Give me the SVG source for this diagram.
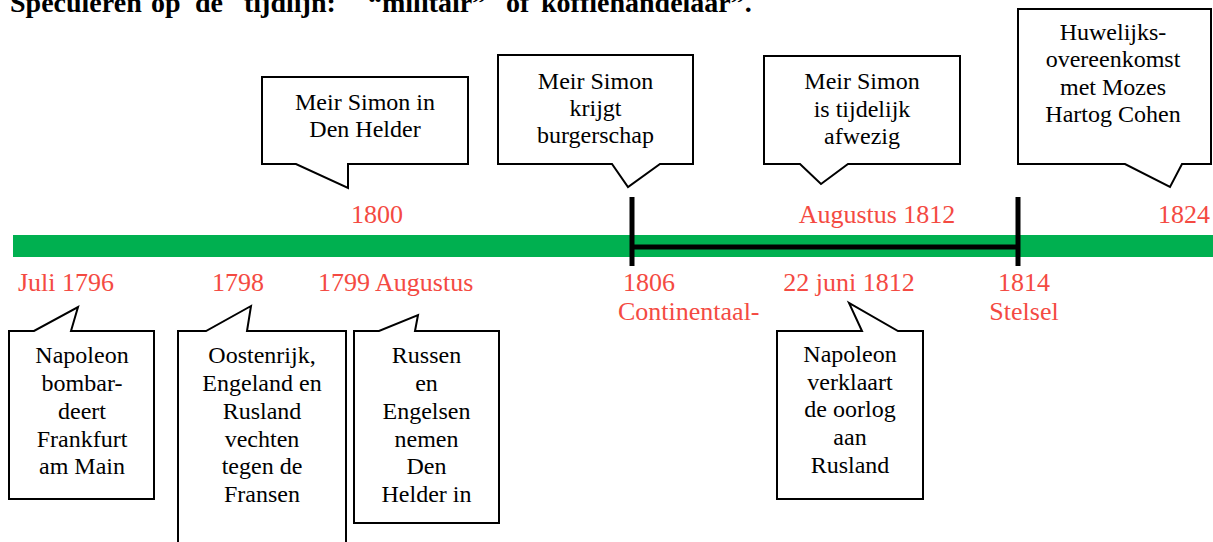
<svg xmlns="http://www.w3.org/2000/svg" width="1213" height="542" viewBox="0 0 1213 542">
<style>
.title{font-family:"Liberation Serif","Times New Roman",serif;font-weight:bold;font-size:28px;fill:#000}
.t{font-family:"Liberation Serif","Times New Roman",serif;font-size:24px;fill:#000;text-anchor:middle}
.red{font-family:"Liberation Serif","Times New Roman",serif;font-size:26px;fill:#F44A42}
.call{fill:#fff;stroke:#000;stroke-width:2;stroke-linejoin:miter}
.bk{stroke:#000;stroke-width:5;fill:none}
</style>
<rect width="1213" height="542" fill="#fff"/>
<text class="title" y="12"><tspan x="10">Speculeren</tspan><tspan x="151">op</tspan><tspan x="195">de</tspan><tspan x="244">tijdlijn:</tspan><tspan x="368">“militair”</tspan><tspan x="506">of</tspan><tspan x="541">koffiehandelaar”.</tspan></text>

<g id="timeline">
<rect x="13" y="235" width="1200" height="22" fill="#00B050"/>
</g>

<g id="connectors">
<line class="bk" x1="632" y1="197" x2="632" y2="266"/>
<line class="bk" x1="1018" y1="197" x2="1018" y2="266"/>
<line class="bk" x1="632" y1="247" x2="1018" y2="247"/>
</g>

<g id="labels">
<text class="red" x="377" y="223" text-anchor="middle">1800</text>
<text class="red" x="877" y="223" text-anchor="middle">Augustus 1812</text>
<text class="red" x="1210" y="223" text-anchor="end">1824</text>
<text class="red" x="18" y="291">Juli 1796</text>
<text class="red" x="238" y="291" text-anchor="middle">1798</text>
<text class="red" x="318" y="291">1799 Augustus</text>
<text class="red" x="623" y="291">1806</text>
<text class="red" x="618" y="320">Continentaal-</text>
<text class="red" x="849" y="291" text-anchor="middle">22 juni 1812</text>
<text class="red" x="1024" y="291" text-anchor="middle">1814</text>
<text class="red" x="1024" y="320" text-anchor="middle">Stelsel</text>
</g>

<g id="c-denhelder">
<path class="call" d="M262,77 H468 V164 H348 V188 L296,164 H262 Z"/>
<text class="t" x="365" y="110">Meir Simon in</text>
<text class="t" x="365" y="137">Den Helder</text>
</g>

<g id="c-burgerschap">
<path class="call" d="M498,55 H693 V164 H660 L628,187 L612,164 H498 Z"/>
<text class="t" x="595.5" y="88.5">Meir Simon</text>
<text class="t" x="595.5" y="115.5">krijgt</text>
<text class="t" x="595.5" y="142.5">burgerschap</text>
</g>

<g id="c-afwezig">
<path class="call" d="M764,56 H960 V164 H848 L821,184 L800,164 H764 Z"/>
<text class="t" x="862" y="89">Meir Simon</text>
<text class="t" x="862" y="116.5">is tijdelijk</text>
<text class="t" x="862" y="144">afwezig</text>
</g>

<g id="c-huwelijk">
<path class="call" d="M1018,9 H1211 V164 H1182 L1170,187 L1125,164 H1018 Z"/>
<text class="t" x="1113" y="39.5">Huwelijks-</text>
<text class="t" x="1113" y="67">overeenkomst</text>
<text class="t" x="1113" y="94.5">met Mozes</text>
<text class="t" x="1113" y="122">Hartog Cohen</text>
</g>

<g id="c-frankfurt">
<path class="call" d="M9,331 H34 L78,307 L71,331 H154 V499 H9 Z"/>
<text class="t" x="82" y="363">Napoleon</text>
<text class="t" x="82" y="391">bombar-</text>
<text class="t" x="82" y="418.5">deert</text>
<text class="t" x="82" y="446.5">Frankfurt</text>
<text class="t" x="82" y="474">am Main</text>
</g>

<g id="c-fransen">
<path class="call" d="M178,331 H206 L251,306 L247,331 H346 V560 H178 Z"/>
<text class="t" x="262" y="363">Oostenrijk,</text>
<text class="t" x="262" y="391">Engeland en</text>
<text class="t" x="262" y="418.5">Rusland</text>
<text class="t" x="262" y="446.5">vechten</text>
<text class="t" x="262" y="474">tegen de</text>
<text class="t" x="262" y="501.5">Fransen</text>
</g>

<g id="c-russen">
<path class="call" d="M354,331 H379 L418,315 L415,331 H499 V523 H354 Z"/>
<text class="t" x="426.5" y="363">Russen</text>
<text class="t" x="426.5" y="391">en</text>
<text class="t" x="426.5" y="418.5">Engelsen</text>
<text class="t" x="426.5" y="446.5">nemen</text>
<text class="t" x="426.5" y="474">Den</text>
<text class="t" x="426.5" y="501.5">Helder in</text>
</g>

<g id="c-rusland">
<path class="call" d="M777,331 H862 L849,303 L898,331 H923 V499 H777 Z"/>
<text class="t" x="850" y="362">Napoleon</text>
<text class="t" x="850" y="389.5">verklaart</text>
<text class="t" x="850" y="417">de oorlog</text>
<text class="t" x="850" y="445">aan</text>
<text class="t" x="850" y="472.5">Rusland</text>
</g>
</svg>
